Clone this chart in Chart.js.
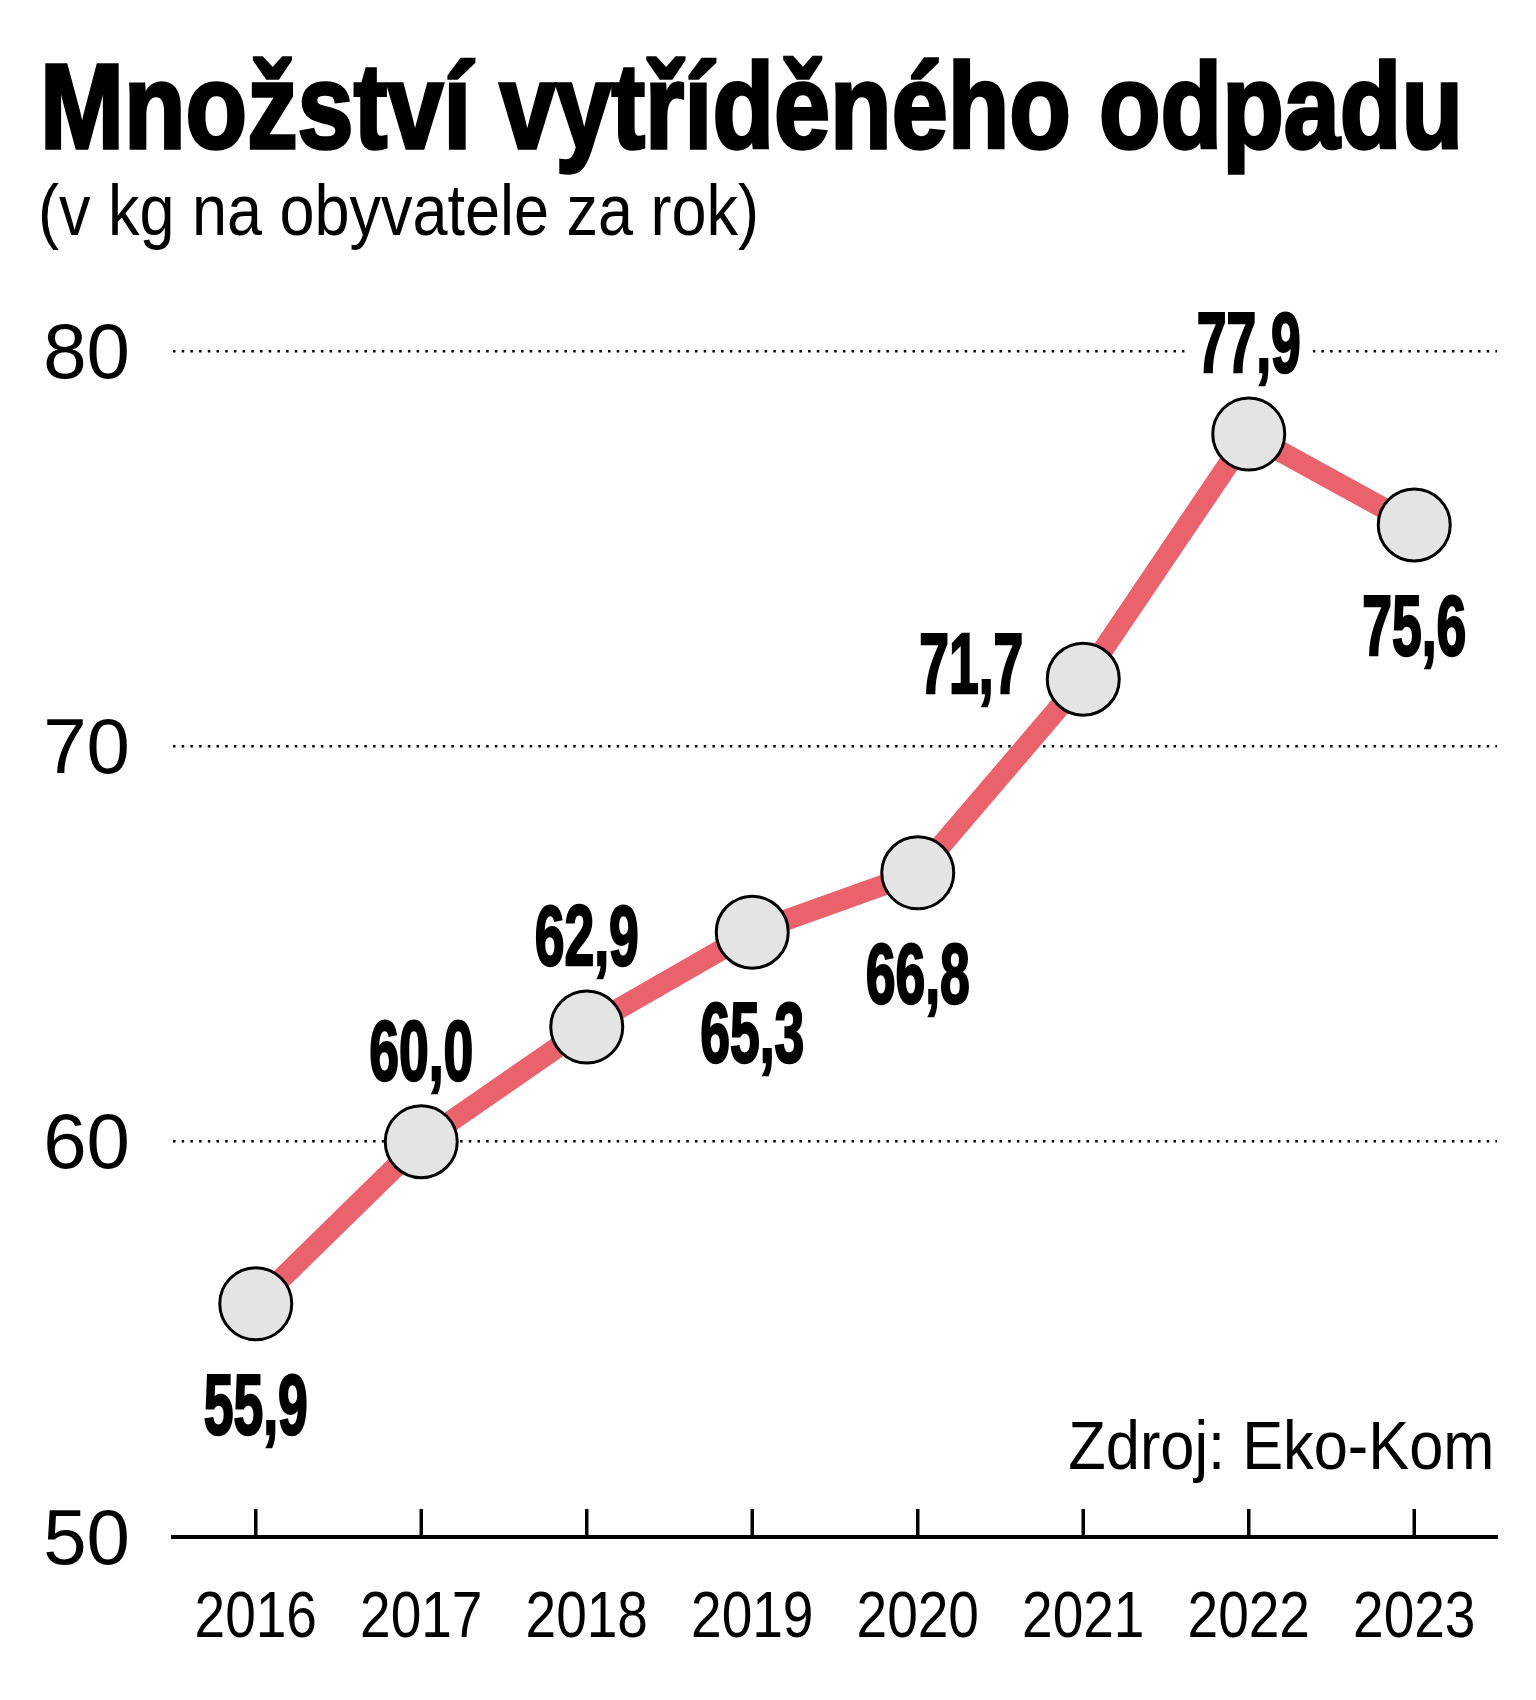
<!DOCTYPE html>
<html lang="cs">
<head>
<meta charset="utf-8">
<title>Množství vytříděného odpadu</title>
<script src="https://cdn.jsdelivr.net/npm/chart.js@4.4.1/dist/chart.umd.min.js"></script>
<style>
  html, body { margin: 0; padding: 0; background: #fff; }
  #wrap { position: relative; width: 1536px; height: 1700px; overflow: hidden; }
  #graf { position: absolute; left: 0; top: 0; }
  .txt { position: absolute; white-space: nowrap; color: #000; line-height: 1; }
  #titulek { left: 40px; top: 36px; font: bold 121px "Liberation Sans"; transform-origin: left top; -webkit-text-stroke: 3.5px #000; }
  #podtitulek { left: 38px; top: 169px; font: 72px "Liberation Sans"; transform-origin: left top; }
  #zdroj { right: 42px; top: 1406px; font: 68px "Liberation Sans"; transform-origin: right top; }
</style>
</head>
<body>
<div id="wrap">
  <div class="txt" id="titulek">Množství vytříděného odpadu</div>
  <div class="txt" id="podtitulek">(v kg na obyvatele za rok)</div>
  <canvas id="graf" width="1536" height="1700"></canvas>
  <div class="txt" id="zdroj">Zdroj: Eko-Kom</div>
</div>
<script>
const roky = ["2016", "2017", "2018", "2019", "2020", "2021", "2022", "2023"];
const mnozstvi = [55.9, 60.0, 62.9, 65.3, 66.8, 71.7, 77.9, 75.6];
const osaYMin = 50;
const osaYMax = 80;
const osaYKrok = 10;
// kde stoji popisek vuci bodu
const umisteni = ["dole", "nahore", "nahore", "dole", "dole", "vlevo", "nahore", "dole"];

const CERVENA = "#ea626b";
const PISMO_POPISKU = 'bold 85px "Liberation Sans"';
const ZUZENI = 0.63;
const PISMO_ROKU = '64px "Liberation Sans"';
const ZUZENI_ROKU = 0.86;

// natahne/zuzi text na sirku z predlohy
function natahni(id, sirka) {
  const el = document.getElementById(id);
  const w = el.getBoundingClientRect().width;
  if (w > 0) el.style.transform = "scaleX(" + (sirka / w) + ")";
}
natahni("titulek", 1423);
natahni("podtitulek", 721);
natahni("zdroj", 426);

const formatuj = (v) => v.toFixed(1).replace(".", ",");

function poziceP(bod, kde) {
  if (kde === "nahore") return { x: bod.x, y: bod.y - 92 };
  if (kde === "dole") return { x: bod.x, y: bod.y + 100 };
  return { x: bod.x - 112, y: bod.y - 16 };
}

function zuzenyText(ctx, text, x, y, sx) {
  ctx.save();
  ctx.translate(x, y);
  ctx.scale(sx, 1);
  ctx.fillText(text, 0, 0);
  ctx.restore();
}

const popiskyPlugin = {
  id: "popisky",
  beforeDatasetsDraw(chart) {
    const ctx = chart.ctx;
    const meta = chart.getDatasetMeta(0);
    const xs = chart.scales.x;
    const dole = chart.chartArea.bottom;

    ctx.save();
    // znacky na ose x smerem nahoru + roky pod osou
    ctx.strokeStyle = "#000";
    ctx.fillStyle = "#000";
    ctx.lineWidth = 3.5;
    ctx.font = PISMO_ROKU;
    ctx.textAlign = "center";
    ctx.textBaseline = "alphabetic";
    roky.forEach((r, i) => {
      const x = xs.getPixelForValue(i);
      ctx.beginPath();
      ctx.moveTo(x, dole);
      ctx.lineTo(x, dole - 28);
      ctx.stroke();
      zuzenyText(ctx, r, x, dole + 100, ZUZENI_ROKU);
    });

    // bile podklady pod popisky (preruseni teckovane mrizky)
    ctx.font = PISMO_POPISKU;
    ctx.fillStyle = "#fff";
    meta.data.forEach((bod, i) => {
      const p = poziceP(bod, umisteni[i]);
      const w = ctx.measureText(formatuj(mnozstvi[i])).width * ZUZENI + 24;
      ctx.fillRect(p.x - w / 2, p.y - 36, w, 72);
    });
    ctx.restore();
  },
  afterDatasetsDraw(chart) {
    const ctx = chart.ctx;
    const meta = chart.getDatasetMeta(0);
    ctx.save();
    ctx.font = PISMO_POPISKU;
    ctx.fillStyle = "#000";
    ctx.strokeStyle = "#000";
    ctx.lineWidth = 2.5;
    ctx.textAlign = "center";
    ctx.textBaseline = "alphabetic";
    meta.data.forEach((bod, i) => {
      const p = poziceP(bod, umisteni[i]);
      const t = formatuj(mnozstvi[i]);
      ctx.save();
      ctx.translate(p.x, p.y + 30);
      ctx.scale(ZUZENI, 1);
      ctx.fillText(t, 0, 0);
      ctx.strokeText(t, 0, 0);
      ctx.restore();
    });
    ctx.restore();
  }
};

new Chart(document.getElementById("graf"), {
  type: "line",
  data: {
    labels: roky,
    datasets: [{
      data: mnozstvi,
      borderColor: CERVENA,
      borderWidth: 21,
      tension: 0,
      clip: false,
      pointRadius: 36,
      pointHoverRadius: 36,
      pointBackgroundColor: "#e4e4e4",
      pointBorderColor: "#000",
      pointBorderWidth: 3
    }]
  },
  options: {
    responsive: false,
    animation: false,
    events: [],
    layout: { padding: { top: 351, right: 39, bottom: 0, left: 0 } },
    plugins: { legend: { display: false }, tooltip: { enabled: false } },
    scales: {
      x: {
        type: "category",
        offset: true,
        grid: { display: false },
        border: { display: true, color: "#000", width: 4 },
        ticks: { display: false },
        afterFit: (s) => { s.height = 163; }
      },
      y: {
        min: osaYMin,
        max: osaYMax,
        grid: { color: "#000", lineWidth: 2.5, drawTicks: false },
        border: { display: false, dash: [2.5, 6.2] },
        ticks: {
          stepSize: osaYKrok,
          color: "#000",
          padding: 43,
          labelOffset: 5,
          font: { family: "Liberation Sans", size: 78 }
        },
        afterFit: (s) => { s.width = 173; }
      }
    }
  },
  plugins: [popiskyPlugin]
});
</script>
</body>
</html>
